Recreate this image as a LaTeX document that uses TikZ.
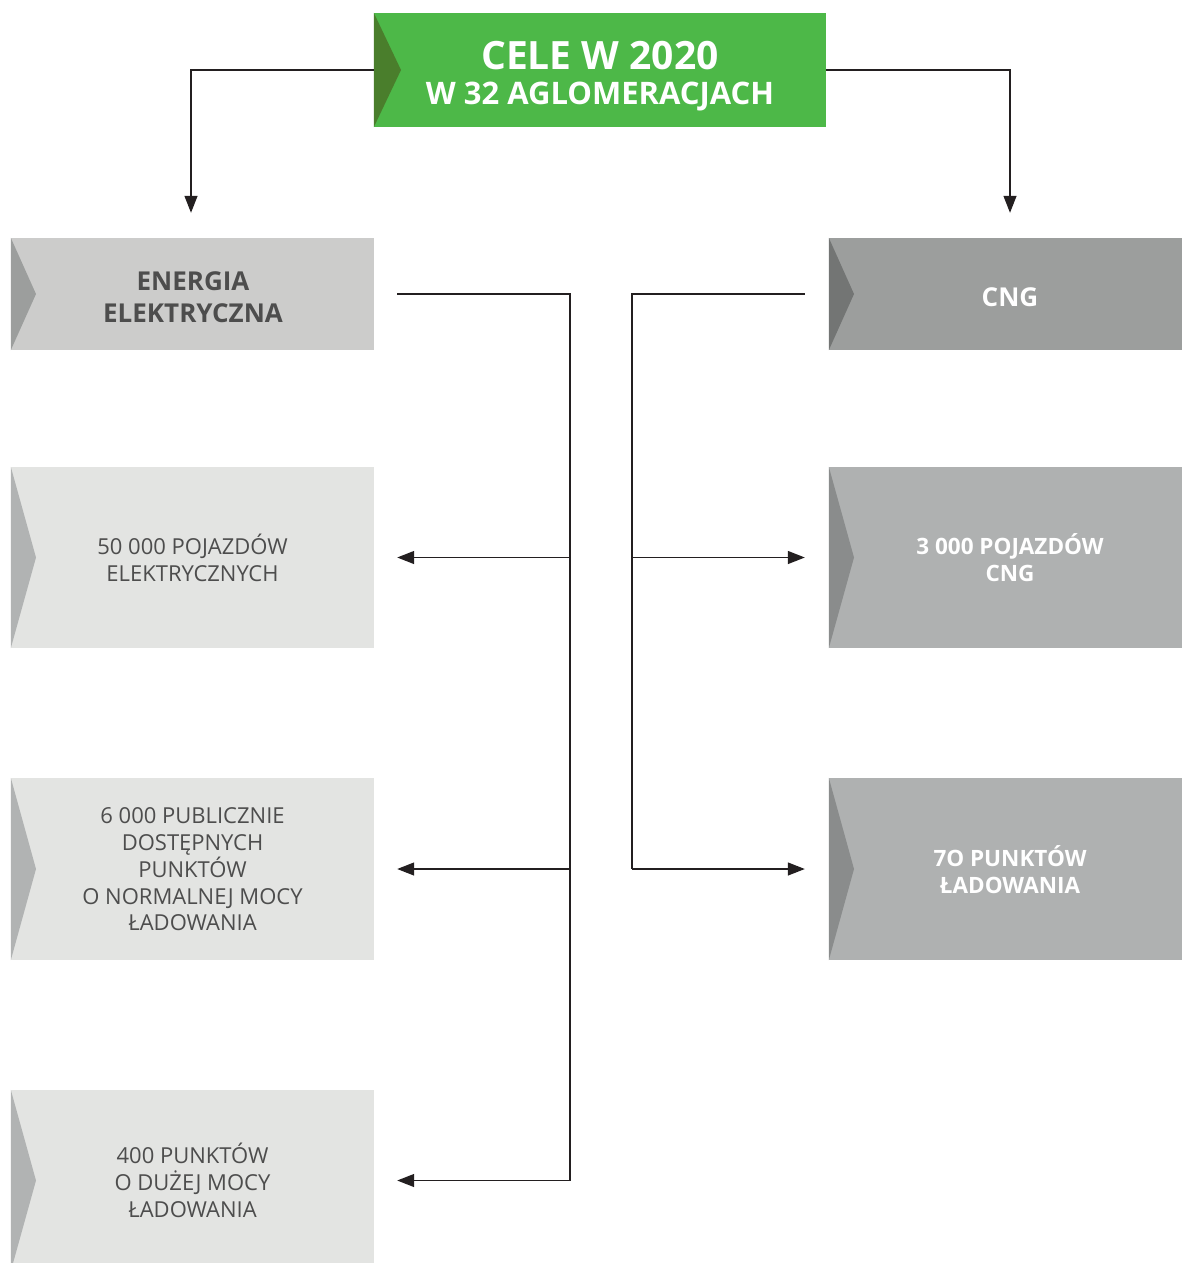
\documentclass[tikz,border=0pt]{standalone}
\usepackage{fontspec}
\setmainfont{Open Sans}
\usetikzlibrary{arrows.meta,calc}
\definecolor{gmain}{HTML}{4DB848}
\definecolor{gdark}{HTML}{4A7E2C}
\definecolor{hdrL}{HTML}{CCCCCB}
\definecolor{hdrLn}{HTML}{9C9E9D}
\definecolor{itemL}{HTML}{E3E4E2}
\definecolor{itemLn}{HTML}{B1B3B3}
\definecolor{hdrR}{HTML}{9C9E9D}
\definecolor{hdrRn}{HTML}{737574}
\definecolor{itemR}{HTML}{AFB1B1}
\definecolor{itemRn}{HTML}{8A8C8C}
\definecolor{txtd}{HTML}{4D4D4D}
\definecolor{linec}{HTML}{231F20}
\tikzset{
  box/.style={rectangle, inner sep=0pt},
  txt/.style={inner sep=0pt, align=center},
  conn/.style={draw=linec, line width=1.3pt},
  tip/.style={-{Triangle[length=17pt,width=13pt]}}
}
\begin{document}
\begin{tikzpicture}[x=1pt,y=-1pt]
\useasboundingbox (0,0) rectangle (1182,1263);
\begin{scope}
\clip (0,0) rectangle (1182,1263);
% top
\node[box, fill=gmain, minimum width=452pt, minimum height=114pt] (top) at (600,70) {};
\fill[gdark] (top.north west) -- (401,70) -- (top.south west) -- cycle;
\node[txt, text=white, font=\bfseries\fontsize{31}{35}\selectfont] (topt) at (600,76) {{\fontsize{39}{35}\selectfont CELE W 2020}\\W 32 AGLOMERACJACH};
% left column
\node[box, fill=hdrL, minimum width=363pt, minimum height=112pt] (e0) at (192.5,294) {};
\fill[hdrLn] (e0.north west) -- (36,294) -- (e0.south west) -- cycle;
\node[txt, text=txtd, font=\bfseries\fontsize{26}{32}\selectfont] (e0t) at (193,297) {ENERGIA\\ELEKTRYCZNA};
\node[box, fill=itemL, minimum width=363pt, minimum height=181pt] (e1) at (192.5,557.5) {};
\fill[itemLn] (e1.north west) -- (36,557.5) -- (e1.south west) -- cycle;
\node[txt, text=txtd, font=\fontsize{22}{27}\selectfont] (e1t) at (192.5,557.5) {50 000 POJAZDÓW\\ELEKTRYCZNYCH};
\node[box, fill=itemL, minimum width=363pt, minimum height=182pt] (e2) at (192.5,869) {};
\fill[itemLn] (e2.north west) -- (36,869) -- (e2.south west) -- cycle;
\node[txt, text=txtd, font=\fontsize{22}{26.7}\selectfont] (e2t) at (192.5,869.5) {6 000 PUBLICZNIE\\DOSTĘPNYCH\\PUNKTÓW\\O NORMALNEJ MOCY\\ŁADOWANIA};
\node[box, fill=itemL, minimum width=363pt, minimum height=181pt] (e3) at (192.5,1180.5) {};
\fill[itemLn] (e3.north west) -- (36,1180.5) -- (e3.south west) -- cycle;
\node[txt, text=txtd, font=\fontsize{22}{27}\selectfont] (e3t) at (192.5,1180.5) {400 PUNKTÓW\\O DUŻEJ MOCY\\ŁADOWANIA};
% right column
\node[box, fill=hdrR, minimum width=353pt, minimum height=112pt] (c0) at (1005.5,294) {};
\fill[hdrRn] (c0.north west) -- (854,294) -- (c0.south west) -- cycle;
\node[txt, text=white, font=\bfseries\fontsize{26}{32}\selectfont] (c0t) at (1010,297) {CNG};
\node[box, fill=itemR, minimum width=353pt, minimum height=181pt] (c1) at (1005.5,557.5) {};
\fill[itemRn] (c1.north west) -- (854,557.5) -- (c1.south west) -- cycle;
\node[txt, text=white, font=\bfseries\fontsize{22.5}{27}\selectfont] (c1t) at (1010,558) {3 000 POJAZDÓW\\CNG};
\node[box, fill=itemR, minimum width=353pt, minimum height=182pt] (c2) at (1005.5,869) {};
\fill[itemRn] (c2.north west) -- (854,869) -- (c2.south west) -- cycle;
\node[txt, text=white, font=\bfseries\fontsize{22.5}{27}\selectfont] (c2t) at (1010,870) {7O PUNKTÓW\\ŁADOWANIA};
\end{scope}
% top connectors
\draw[conn, tip] (top.west) -| ([xshift=-1.5pt,yshift=25pt]e0.north);
\draw[conn, tip] (top.east) -| ([xshift=4.5pt,yshift=25pt]c0.north);
% left trunk
\coordinate (lt) at (570,294);
\draw[conn] ([xshift=23pt]e0.east) -- (lt) -- (lt |- e3.east);
\draw[conn, tip] (lt |- e1.east) -- ([xshift=23pt]e1.east);
\draw[conn, tip] (lt |- e2.east) -- ([xshift=23pt]e2.east);
\draw[conn, tip] (lt |- e3.east) -- ([xshift=23pt]e3.east);
% right trunk
\coordinate (rt) at (632,294);
\draw[conn] ([xshift=-24pt]c0.west) -- (rt) -- (rt |- c2.west);
\draw[conn, tip] (rt |- c1.west) -- ([xshift=-24pt]c1.west);
\draw[conn, tip] (rt |- c2.west) -- ([xshift=-24pt]c2.west);
\end{tikzpicture}
\end{document}
